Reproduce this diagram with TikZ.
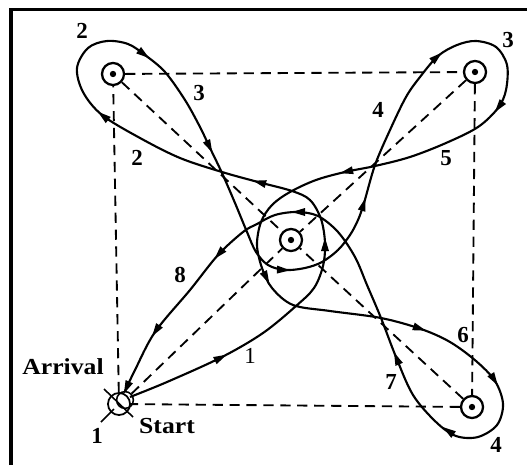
\documentclass[tikz,border=0pt]{standalone}
\usepackage{fontspec}
\setmainfont{Liberation Serif}
\begin{document}
\begin{tikzpicture}[x=0.567pt,y=-0.567pt,
  target/.style={circle,draw,line width=1.3pt,minimum size=12.5pt,inner sep=0pt},
  dashline/.style={dash pattern=on 5.8pt off 3.8pt,line width=1.05pt},
  traj/.style={line width=1.2pt},
  lab/.style={font=\bfseries\fontsize{13}{13}\selectfont,inner sep=0pt},
  word/.style={font=\bfseries\fontsize{13}{13}\selectfont,inner sep=0pt,xscale=1.12},
  pics/ahead/.style={code={\fill (5,0)--(-8,4)--(-8,-4)--cycle;}}
]
\useasboundingbox (0,0) rectangle (527,465);
% frame (left and top edges)
\draw[line width=1.9pt] (11,465) -- (11,9.5) -- (527,9.5);

% targets
\node[target] (tl) at (113,74) {};
\node[target] (tr) at (475,72) {};
\node[target] (br) at (472,407) {};
\node[target] (c) at (291,240) {};
\node[target,line width=1pt] (st) at (119,404) {};
\node[circle,draw,line width=0.9pt,minimum size=9.5pt,inner sep=0pt] (ar) at (125,400) {};
\foreach \t in {tl,tr,br,c} \fill (\t.center) circle[radius=1.8pt];

% dashed square and diagonals
\draw[dashline] (tl) -- (tr);
\draw[dashline] (tr) -- (br);
\draw[dashline] (br) -- (st);
\draw[dashline] (st) -- (tl);
\draw[dashline] (tl) -- (c);
\draw[dashline] (tr) -- (c);
\draw[dashline] (br) -- (c);
\draw[dashline] (ar) -- (c);

% start / arrival marks
\coordinate (x1) at (104,389);
\coordinate (x2) at (133,417);
\coordinate (l1) at (101,422);
\coordinate (l2) at (114,409);
\draw[line width=0.9pt] (x1) -- (x2);
\draw[line width=0.9pt] (l1) -- (l2);

% trajectory
\draw[traj] plot[smooth,tension=0.55] coordinates {
 (130,397) (167,382) (222,357) (263,333) (296,306) (314,288) (323,266) (325,243)
 (321,219) (310,200) (292,191) (258,182) (222,172) (180,158) (140,138) (102,115)
 (83,92) (77,68) (88,48) (107,41) (128,44) (145,55) (165,72) (185,100) (200,127)
 (210,148) (222,173) (235,203) (247,232) (256,252) (268,265) (285,270) (305,268)
 (322,262) (338,250) (350,235) (358,220) (364,203) (375,165) (390,130) (406,97)
 (420,77) (438,56) (457,45) (476,41) (496,47) (507,65) (506,90) (498,108) (478,127)
 (446,143) (410,157) (375,166) (345,172) (316,180) (290,192) (272,205) (261,222)
 (257,245) (262,268) (272,288) (293,305) (330,311) (381,318) (421,329) (450,342)
 (476,361) (495,381) (503,404) (497,425) (478,437) (456,436) (436,422) (413,395)
 (396,357) (381,318) (367,285) (355,257) (338,232) (318,216) (297,212) (275,215)
 (257,224) (243,232) (218,255) (190,290) (155,332) (135,370) (125,391)
};

% arrowheads
\pic[rotate=27] at (222,357) {ahead};
\pic[rotate=90] at (325,243) {ahead};
\pic[rotate=-195] at (258,182) {ahead};
\pic[rotate=141] at (102,115) {ahead};
\pic[rotate=-37] at (145,55) {ahead};
\pic[rotate=-64] at (210,148) {ahead};
\pic[rotate=-3] at (285,270) {ahead};
\pic[rotate=73] at (364,203) {ahead};
\pic[rotate=41] at (438,56) {ahead};
\pic[rotate=-127] at (498,108) {ahead};
\pic[rotate=-167] at (345,172) {ahead};
\pic[rotate=-63] at (267,279) {ahead};
\pic[rotate=-19] at (421,329) {ahead};
\pic[rotate=-58] at (495,381) {ahead};
\pic[rotate=-215] at (447,430) {ahead};
\pic[rotate=113] at (396,357) {ahead};
\pic[rotate=180] at (297,212) {ahead};
\pic[rotate=-132] at (218,255) {ahead};
\pic[rotate=-124] at (155,332) {ahead};
\pic[rotate=-114] at (126,389) {ahead};

% labels
\node[lab] at (82,31) {2};
\node[lab] at (199,93) {3};
\node[lab] at (137,158) {2};
\node[lab] at (508,40) {3};
\node[lab] at (378,110) {4};
\node[lab] at (446,158) {5};
\node[lab] at (463,335) {6};
\node[lab] at (391,382) {7};
\node[lab] at (496,445) {4};
\node[lab] at (180,275) {8};
\node[lab,font=\fontsize{13}{13}\selectfont] at (250,356) {1};
\node[lab] at (97,436) {1};
\node[word] at (63,367) {Arrival};
\node[word] at (167,426) {Start};
\end{tikzpicture}
\end{document}
